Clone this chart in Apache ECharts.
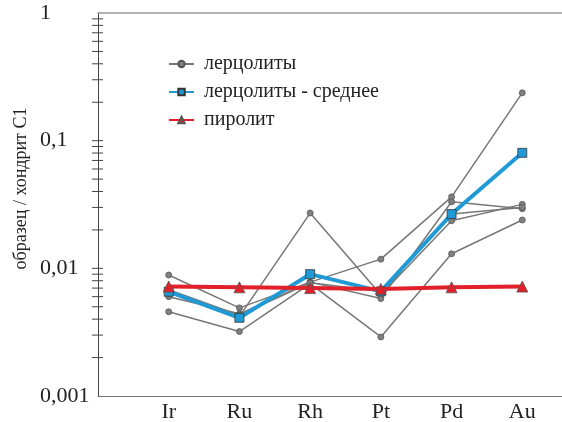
<!DOCTYPE html>
<html><head><meta charset="utf-8">
<script src="https://cdn.jsdelivr.net/npm/echarts@6/dist/echarts.min.js"></script>
<style>html,body{margin:0;padding:0;background:#fff}#c{width:562px;height:422px}</style>
</head><body><div id="c"></div>
<script>
const categories = ['Ir', 'Ru', 'Rh', 'Pt', 'Pd', 'Au'];
const yTickValues = [0.001, 0.01, 0.1, 1];
const yTickLabels = ['0,001', '0,01', '0,1', '1'];
const lherz1 = [0.00887, 0.0049, 0.0078, 0.0118, 0.0363, 0.237];
const lherz2 = [0.0065, 0.0042, 0.0271, 0.0062, 0.0236, 0.0317];
const lherz3 = [0.00457, 0.0032, 0.0076, 0.0029, 0.0130, 0.0239];
const lherz4 = [0.0060, 0.0044, 0.0078, 0.0058, 0.0332, 0.0293];
const lherz5 = [0.0068, 0.0043, 0.0077, 0.0066, 0.0266, 0.0300];
const lherzMean = [0.00656, 0.0041, 0.0090, 0.0066, 0.0266, 0.0803];
const pyrolite = [0.0072, 0.0071, 0.0070, 0.0069, 0.0071, 0.0072];
const nameL = 'лерцолиты', nameM = 'лерцолиты - среднее', nameP = 'пиролит';

const FONT = "'Liberation Serif', 'DejaVu Serif', serif";
const toPairs = arr => arr.map((v, i) => [i + 1, v]);
const graySeries = [lherz1, lherz2, lherz3, lherz4, lherz5].map(d => ({
  name: nameL, type: 'line', data: toPairs(d), symbol: 'circle', symbolSize: 6,
  lineStyle: { color: '#777', width: 1.5 },
  itemStyle: { color: '#808080', borderColor: '#555', borderWidth: 0.8 },
  z: 2
}));

const chart = echarts.init(document.getElementById('c'));
chart.setOption({
  animation: false,
  grid: { left: 98, top: 13, bottom: 26, right: -31, containLabel: false, outerBoundsMode: 'none' },
  legend: {
    orient: 'vertical', left: 163, top: 49, itemGap: 8, itemWidth: 25, itemHeight: 8,
    data: [nameL, nameM, nameP],
    textStyle: { fontFamily: FONT, fontSize: 20, color: '#222', padding: [0, 0, 0, 5] }
  },
  xAxis: [{
    type: 'value', min: 0, max: 7, interval: 1,
    axisLine: { lineStyle: { color: '#777', width: 1 } },
    axisTick: { show: false }, splitLine: { show: false },
    axisLabel: { formatter: v => categories[v - 1] || '', fontFamily: FONT, fontSize: 22, color: '#222', margin: 5 }
  }, {
    type: 'value', min: 0, max: 7, position: 'top',
    axisLine: { lineStyle: { color: '#999', width: 1.5 } },
    axisTick: { show: false }, axisLabel: { show: false }, splitLine: { show: false }
  }],
  yAxis: {
    type: 'log', logBase: 10, min: 0.001, max: 1,
    name: 'образец / хондрит С1', nameLocation: 'middle', nameGap: 68, nameMoveOverlap: false,
    nameTextStyle: { fontFamily: FONT, fontSize: 18, color: '#222', padding: [0, 0, 0, 32] },
    axisLine: { show: true, lineStyle: { color: '#444', width: 1 } },
    axisTick: { show: false }, splitLine: { show: false },
    axisLabel: {
      formatter: v => { const i = yTickValues.findIndex(t => Math.abs(t - v) / t < 1e-6); return i >= 0 ? yTickLabels[i] : ''; },
      align: 'left', margin: 58, fontFamily: FONT, fontSize: 22, color: '#222'
    }
  },
  series: graySeries.concat([{
    name: nameM, type: 'line', data: toPairs(lherzMean), symbol: 'rect', symbolSize: 9,
    lineStyle: { color: '#1f9ad6', width: 4 },
    itemStyle: { color: '#1f9ad6', borderColor: '#333', borderWidth: 0.8 }, z: 3
  }, {
    name: nameP, type: 'line', data: toPairs(pyrolite), symbol: 'triangle', symbolSize: 11,
    lineStyle: { color: '#e3202a', width: 4 },
    itemStyle: { color: '#e3202a', borderColor: '#555', borderWidth: 0.8 }, z: 4
  }])
});

const lines = [];
for (let d = -3; d < 0; d++) {
  for (let k = 1; k <= 9; k++) {
    const v = k * Math.pow(10, d);
    if (k === 1 && d === -3) continue;
    const y = chart.convertToPixel({ yAxisIndex: 0 }, v);
    const x = chart.convertToPixel({ xAxisIndex: 0 }, 0);
    lines.push({ type: 'line', shape: { x1: x - 6, y1: y, x2: x + 5, y2: y }, style: { stroke: '#444', lineWidth: 1 }, silent: true });
  }
}
chart.setOption({ graphic: lines });
</script></body></html>
